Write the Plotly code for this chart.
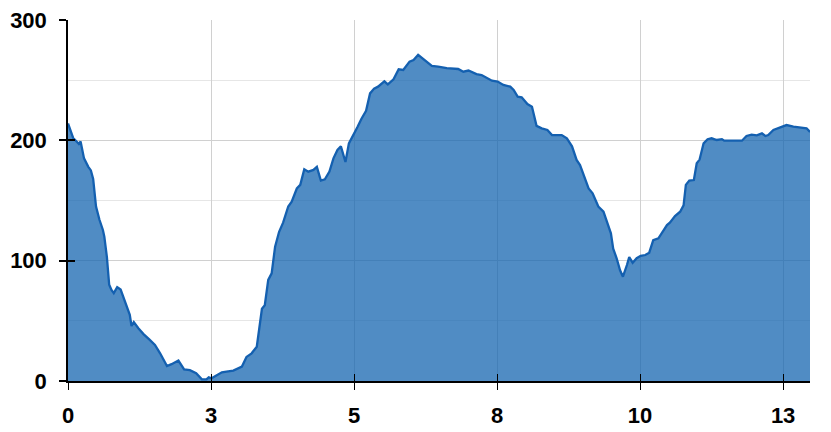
import plotly.graph_objects as go

# distance values (x) and elevation-like values (y)
x_vals = [0, 0.09, 0.15, 0.19, 0.22, 0.28, 0.355, 0.40, 0.44, 0.49, 0.55, 0.61, 0.635, 0.68,
          0.72, 0.76, 0.80, 0.86, 0.92, 0.98, 1.04, 1.08, 1.11, 1.15, 1.23, 1.32, 1.42, 1.52,
          1.61, 1.73, 1.81, 1.93, 2.03, 2.13, 2.24, 2.34, 2.42, 2.46, 2.51, 2.60, 2.69, 2.77,
          2.89, 3.04, 3.12, 3.21, 3.30, 3.39, 3.44, 3.50, 3.56, 3.62, 3.69, 3.76, 3.85, 3.91,
          4.00, 4.06, 4.13, 4.20, 4.29, 4.35, 4.42, 4.49, 4.57, 4.64, 4.71, 4.77, 4.85, 4.91,
          4.99, 5.06, 5.13, 5.21, 5.28, 5.35, 5.42, 5.53, 5.59, 5.69, 5.78, 5.86, 5.97, 6.04,
          6.12, 6.24, 6.36, 6.47, 6.62, 6.82, 6.91, 7.00, 7.14, 7.23, 7.41, 7.51, 7.61, 7.73,
          7.79, 7.86, 7.93, 8.03, 8.11, 8.19, 8.28, 8.38, 8.46, 8.63, 8.72, 8.81, 8.89, 8.95,
          9.02, 9.10, 9.17, 9.27, 9.36, 9.42, 9.49, 9.53, 9.59, 9.65, 9.70, 9.77, 9.81, 9.87,
          9.94, 10.01, 10.09, 10.16, 10.23, 10.32, 10.38, 10.47, 10.52, 10.61, 10.70, 10.76,
          10.80, 10.86, 10.94, 10.99, 11.04, 11.11, 11.18, 11.25, 11.34, 11.43, 11.47, 11.57,
          11.78, 11.86, 11.95, 12.04, 12.13, 12.19, 12.24, 12.33, 12.42, 12.56, 12.68, 12.83,
          12.91, 12.97]
y_vals = [214, 202, 199, 197, 199, 185, 178, 175, 168, 145, 134, 125.5, 120, 103,
          80, 75.6, 73, 78, 76, 68, 59.6, 55, 45.7, 49, 43.8, 39, 34.6, 30,
          23, 12.5, 14, 17, 9.7, 9, 6.4, 1.4, 1.4, 3, 2.2, 5, 7.2, 7.8,
          8.6, 12, 20, 23, 28.5, 60, 63, 84, 89.5, 111.6, 124, 131.6, 145, 149,
          160, 163, 176, 174, 175.4, 178, 166.5, 167.6, 174, 185, 192, 195, 182, 197.5,
          204.4, 211, 218, 224.6, 239, 243, 244.6, 249, 246.5, 250.7, 259, 258.5, 265.4, 266.8,
          271, 266, 261.8, 261.2, 260, 259.3, 257, 258, 255, 254.3, 249.6, 248.8, 246, 244.6,
          241.8, 236.3, 235.8, 230.2, 228, 212, 210, 208.6, 204.4, 204.4, 201.7, 195, 183.7, 179.5,
          170, 160, 156, 145, 140.7, 132.4, 122.7, 110, 102, 92, 86.7, 96.4, 103, 98.3,
          102, 104, 104.7, 106.6, 117, 118.6, 122.7, 129.6, 131.6, 137, 140.7, 146,
          163, 166.5, 167, 181, 184, 197.5, 200.9, 201.7, 200.3, 201, 199.7, 199.7,
          199.7, 203.6, 204.7, 204.2, 205.8, 203.6, 204.4, 208.6, 210, 212.7, 211.3, 210.8,
          210, 207]

x_ticks = [0, 2.5, 5, 7.5, 10, 12.5]
y_ticks = [0, 100, 200, 300]

tick_font = dict(family="Liberation Sans, Arial, sans-serif", size=22, color="#000000", weight="bold")

fig = go.Figure()
fig.add_trace(go.Scatter(
    x=x_vals, y=y_vals, mode="lines", fill="tozeroy",
    line=dict(color="rgb(20,96,176)", width=2.3),
    fillcolor="rgba(22,101,176,0.75)", hoverinfo="skip", showlegend=False,
))
# helper trace on overlay axes (carries the inward halves of the tick marks)
fig.add_trace(go.Scatter(x=[x_vals[0]], y=[y_vals[0]], xaxis="x2", yaxis="y2",
                         mode="markers", marker=dict(opacity=0), hoverinfo="skip",
                         showlegend=False))

fig.update_layout(
    width=831, height=432,
    margin=dict(l=68, r=21, t=20, b=51),
    paper_bgcolor="white", plot_bgcolor="white",
    xaxis=dict(
        range=[0, 12.97], tickvals=x_ticks, tickformat=".0f", automargin=False,
        showgrid=True, gridcolor="#d0d0d0", gridwidth=1, zeroline=False,
        showline=True, linecolor="#000000", linewidth=2, layer="below traces",
        ticks="outside", ticklen=7, tickwidth=1, tickcolor="#000000",
        tickfont=tick_font, ticklabelstandoff=7,
    ),
    yaxis=dict(
        range=[0, 300], tickvals=y_ticks, automargin=False,
        showgrid=True, gridcolor="#d0d0d0", gridwidth=1, zeroline=False,
        minor=dict(dtick=50, showgrid=True, gridcolor="#e6e6e6", gridwidth=1),
        showline=True, linecolor="#000000", linewidth=1.5,
        ticks="outside", ticklen=7, tickwidth=2, tickcolor="#000000",
        tickfont=tick_font, ticklabelstandoff=8,
    ),
    xaxis2=dict(
        overlaying="x", matches="x", range=[0, 12.97], tickvals=x_ticks, automargin=False,
        showgrid=False, zeroline=False, showline=False, showticklabels=False,
        ticks="inside", ticklen=7, tickwidth=1, tickcolor="#000000", side="bottom",
    ),
    yaxis2=dict(
        overlaying="y", matches="y", range=[0, 300], tickvals=y_ticks, automargin=False,
        showgrid=False, zeroline=False, showline=False, showticklabels=False,
        ticks="inside", ticklen=7, tickwidth=2, tickcolor="#000000", side="left",
    ),
)

fig.write_html(
    "out.html",
    config={"displayModeBar": False},
    post_script="document.body.style.margin='0';document.body.style.overflow='hidden';",
)
